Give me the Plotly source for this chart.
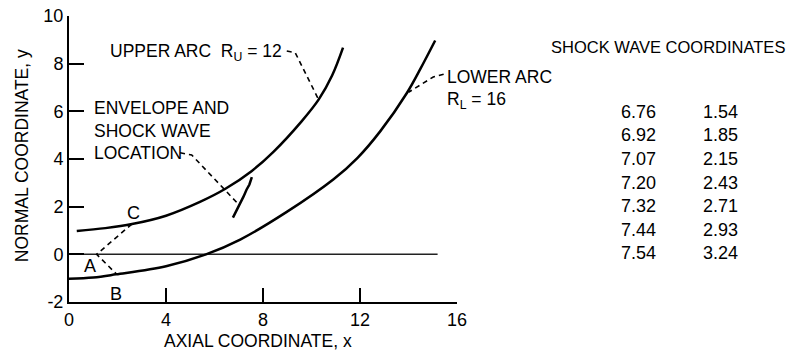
import plotly.graph_objects as go

# ---- data ----
upper_x = [0.32, 1.5, 2.6, 4.0, 5.4, 6.45, 7.54, 8.43, 9.6, 10.3, 10.85, 11.3]
upper_y = [0.98, 1.1, 1.27, 1.62, 2.2, 2.75, 3.5, 4.3, 5.59, 6.5, 7.5, 8.67]

lower_x = [0.0, 1.0, 1.94, 4.0, 5.65, 7.06, 8.98, 10.91, 11.9, 12.84, 13.94, 14.5, 15.1]
lower_y = [-1.02, -0.97, -0.84, -0.5, 0.0, 0.62, 1.78, 3.15, 4.05, 5.17, 6.78, 7.8, 8.97]

shock_x = [6.76, 6.92, 7.07, 7.20, 7.32, 7.44, 7.54]
shock_y = [1.54, 1.85, 2.15, 2.43, 2.71, 2.93, 3.24]

axis_line_x = [0.0, 15.2]
axis_line_y = [0.0, 0.0]

# leader lines (dashed)
lead_ac_x = [2.59, 1.14, 1.97]
lead_ac_y = [1.27, 0.0, -0.84]
lead_upper_x = [8.98, 9.33, 10.29]
lead_upper_y = [8.53, 8.46, 6.5]
lead_env_x = [4.58, 5.06, 6.99]
lead_env_y = [4.26, 4.17, 2.10]
lead_lower_x = [15.45, 15.02, 14.0]
lead_lower_y = [7.56, 7.44, 6.8]

x_ticks = [0, 4, 8, 12, 16]
y_ticks = [-2, 0, 2, 4, 6, 8, 10]

FONT = "Liberation Sans, Arial, sans-serif"

fig = go.Figure()

def solid(x, y, w=2.5):
    fig.add_trace(go.Scatter(x=x, y=y, mode="lines", hoverinfo="skip",
                             line=dict(color="black", width=w, shape="spline", smoothing=1.0)))

def dashed(x, y):
    fig.add_trace(go.Scatter(x=x, y=y, mode="lines", hoverinfo="skip",
                             line=dict(color="black", width=1.6, dash="5px,4px")))

fig.add_trace(go.Scatter(x=axis_line_x, y=axis_line_y, mode="lines", hoverinfo="skip",
                         line=dict(color="#222", width=1.5)))
solid(upper_x, upper_y)
solid(lower_x, lower_y)
fig.add_trace(go.Scatter(x=shock_x, y=shock_y, mode="lines", hoverinfo="skip",
                         line=dict(color="black", width=2.5)))
dashed(lead_ac_x, lead_ac_y)
dashed(lead_upper_x, lead_upper_y)
dashed(lead_env_x, lead_env_y)
dashed(lead_lower_x, lead_lower_y)

ann = []
def text(t, x, y, xa="center", ya="middle", size=17, xref="x", yref="y", angle=0):
    ann.append(dict(text=t, x=x, y=y, xref=xref, yref=yref, xanchor=xa, yanchor=ya,
                    showarrow=False, textangle=angle,
                    font=dict(family=FONT, size=size, color="black")))

text("A", 0.85, -0.5, size=18)
text("B", 1.94, -1.68, size=18)
text("C", 2.65, 1.72, size=18)
text("UPPER ARC&nbsp;&nbsp;R<sub>U</sub> = 12", 8.87, 8.45, xa="right", size=17.5)
text("ENVELOPE AND", 0.95, 6.15, xa="left", size=17.5)
text("SHOCK WAVE", 0.95, 5.18, xa="left", size=17.5)
text("LOCATION", 0.95, 4.26, xa="left", size=17.5)
text("LOWER ARC", 15.52, 7.45, xa="left", size=17.5)
text("R<sub>L</sub> = 16", 15.52, 6.45, xa="left", size=17.5)

# axis titles
text("NORMAL COORDINATE, y", -0.121, 0.51, xref="paper", yref="paper", angle=-90, size=17.5)
text("AXIAL COORDINATE, x", 0.487, -0.136, xref="paper", yref="paper", size=17.5)

# table
text("SHOCK WAVE COORDINATES", 1.237, 0.892, xa="left", xref="paper", yref="paper", size=16.5)
for i, (sx, sy) in enumerate(zip(shock_x, shock_y)):
    py = 111.7 + i * 23.6
    yp = (302 - py) / 286
    text(f"{sx:.2f}", 1.518, yp, xa="right", xref="paper", yref="paper", size=18)
    text(f"{sy:.2f}", 1.729, yp, xa="right", xref="paper", yref="paper", size=18)

fig.update_layout(
    width=795, height=354,
    margin=dict(l=69, r=338, t=16, b=52, pad=0, autoexpand=False),
    paper_bgcolor="white", plot_bgcolor="white",
    showlegend=False,
    annotations=ann,
    font=dict(family=FONT, size=17, color="black"),
)
fig.update_xaxes(range=[0, 16], tickvals=x_ticks, ticktext=[str(v) for v in x_ticks],
                 ticks="inside", ticklen=14, tickwidth=1.5, tickcolor="black",
                 showline=True, linecolor="black", linewidth=2,
                 showgrid=False, zeroline=False, automargin=False,
                 ticklabeloverflow="allow",
                 tickfont=dict(family=FONT, size=18, color="black"))
fig.update_yaxes(range=[-2, 10], tickvals=y_ticks, ticktext=[str(v) for v in y_ticks],
                 ticks="inside", ticklen=15, tickwidth=1.5, tickcolor="black",
                 showline=True, linecolor="black", linewidth=2,
                 showgrid=False, zeroline=False, automargin=False,
                 ticklabeloverflow="allow",
                 tickfont=dict(family=FONT, size=18, color="black"))

# remove the default 8px page margin so the figure sits at the window's corner
fig.write_html("out.html", config={"displayModeBar": False},
               post_script="document.body.style.margin='0';")
